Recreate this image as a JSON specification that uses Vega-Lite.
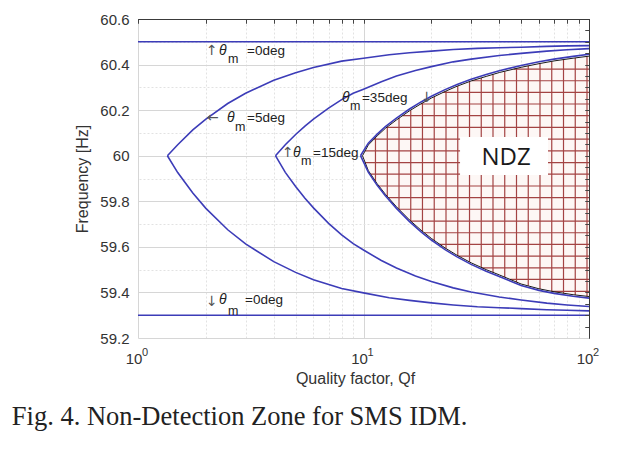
{
  "$schema": "https://vega.github.io/schema/vega-lite/v6.json",
  "width": 451,
  "height": 319,
  "autosize": "none",
  "padding": {"left": 138, "top": 19, "right": 30, "bottom": 114},
  "background": "white",
  "config": {
    "view": {"stroke": null},
    "axis": {"labelFont": "Liberation Sans", "titleFont": "Liberation Sans", "domain": false, "labelFlush": false, "labelOverlap": false}
  },
  "title": {"text": "Fig. 4. Non-Detection Zone for SMS IDM.", "orient": "bottom", "anchor": "start", "frame": "bounds", "font": "Liberation Serif", "fontSize": 26.5, "fontWeight": "normal", "color": "#222", "offset": 18, "dx": -63},
  "resolve": {"axis": {"x": "independent", "y": "independent"}},
  "datasets": {
    "curves": [
      {"id": "0u", "Q": 1, "f": 60.5}, {"id": "0u", "Q": 100, "f": 60.5},
      {"id": "0l", "Q": 1, "f": 59.3}, {"id": "0l", "Q": 100, "f": 59.3},
      {"id": "5u", "Q": 1.35, "f": 60.0}, {"id": "5u", "Q": 1.5, "f": 60.048}, {"id": "5u", "Q": 1.75, "f": 60.113}, {"id": "5u", "Q": 2, "f": 60.161}, {"id": "5u", "Q": 2.5, "f": 60.229}, {"id": "5u", "Q": 3, "f": 60.274}, {"id": "5u", "Q": 4, "f": 60.331}, {"id": "5u", "Q": 5, "f": 60.364}, {"id": "5u", "Q": 6, "f": 60.387}, {"id": "5u", "Q": 8, "f": 60.415}, {"id": "5u", "Q": 10, "f": 60.428}, {"id": "5u", "Q": 13, "f": 60.443}, {"id": "5u", "Q": 16, "f": 60.452}, {"id": "5u", "Q": 20, "f": 60.459}, {"id": "5u", "Q": 25, "f": 60.466}, {"id": "5u", "Q": 32, "f": 60.471}, {"id": "5u", "Q": 40, "f": 60.474}, {"id": "5u", "Q": 50, "f": 60.476}, {"id": "5u", "Q": 65, "f": 60.48}, {"id": "5u", "Q": 80, "f": 60.482}, {"id": "5u", "Q": 100, "f": 60.483},
      {"id": "5l", "Q": 1.35, "f": 60.0}, {"id": "5l", "Q": 1.5, "f": 59.926}, {"id": "5l", "Q": 1.75, "f": 59.836}, {"id": "5l", "Q": 2, "f": 59.769}, {"id": "5l", "Q": 2.5, "f": 59.675}, {"id": "5l", "Q": 3, "f": 59.613}, {"id": "5l", "Q": 4, "f": 59.535}, {"id": "5l", "Q": 5, "f": 59.488}, {"id": "5l", "Q": 6, "f": 59.456}, {"id": "5l", "Q": 8, "f": 59.417}, {"id": "5l", "Q": 10, "f": 59.398}, {"id": "5l", "Q": 13, "f": 59.377}, {"id": "5l", "Q": 16, "f": 59.365}, {"id": "5l", "Q": 20, "f": 59.354}, {"id": "5l", "Q": 25, "f": 59.345}, {"id": "5l", "Q": 32, "f": 59.337}, {"id": "5l", "Q": 40, "f": 59.333}, {"id": "5l", "Q": 50, "f": 59.329}, {"id": "5l", "Q": 65, "f": 59.324}, {"id": "5l", "Q": 80, "f": 59.322}, {"id": "5l", "Q": 100, "f": 59.319},
      {"id": "15u", "Q": 4.07, "f": 60.0}, {"id": "15u", "Q": 4.5, "f": 60.048}, {"id": "15u", "Q": 5, "f": 60.093}, {"id": "15u", "Q": 5.5, "f": 60.13}, {"id": "15u", "Q": 6, "f": 60.161}, {"id": "15u", "Q": 7, "f": 60.209}, {"id": "15u", "Q": 8, "f": 60.246}, {"id": "15u", "Q": 9, "f": 60.274}, {"id": "15u", "Q": 10, "f": 60.292}, {"id": "15u", "Q": 12, "f": 60.325}, {"id": "15u", "Q": 14, "f": 60.35}, {"id": "15u", "Q": 17, "f": 60.374}, {"id": "15u", "Q": 20, "f": 60.391}, {"id": "15u", "Q": 25, "f": 60.412}, {"id": "15u", "Q": 30, "f": 60.424}, {"id": "15u", "Q": 40, "f": 60.44}, {"id": "15u", "Q": 50, "f": 60.449}, {"id": "15u", "Q": 65, "f": 60.459}, {"id": "15u", "Q": 80, "f": 60.465}, {"id": "15u", "Q": 100, "f": 60.47},
      {"id": "15l", "Q": 4.07, "f": 60.0}, {"id": "15l", "Q": 4.5, "f": 59.927}, {"id": "15l", "Q": 5, "f": 59.865}, {"id": "15l", "Q": 5.5, "f": 59.813}, {"id": "15l", "Q": 6, "f": 59.771}, {"id": "15l", "Q": 7, "f": 59.703}, {"id": "15l", "Q": 8, "f": 59.653}, {"id": "15l", "Q": 9, "f": 59.614}, {"id": "15l", "Q": 10, "f": 59.586}, {"id": "15l", "Q": 12, "f": 59.54}, {"id": "15l", "Q": 14, "f": 59.507}, {"id": "15l", "Q": 17, "f": 59.472}, {"id": "15l", "Q": 20, "f": 59.448}, {"id": "15l", "Q": 25, "f": 59.42}, {"id": "15l", "Q": 30, "f": 59.402}, {"id": "15l", "Q": 40, "f": 59.38}, {"id": "15l", "Q": 50, "f": 59.367}, {"id": "15l", "Q": 65, "f": 59.353}, {"id": "15l", "Q": 80, "f": 59.345}, {"id": "15l", "Q": 100, "f": 59.338},
      {"id": "35u", "Q": 9.7, "f": 60.0}, {"id": "35u", "Q": 10.5, "f": 60.055}, {"id": "35u", "Q": 11.5, "f": 60.095}, {"id": "35u", "Q": 12.5, "f": 60.128}, {"id": "35u", "Q": 14, "f": 60.165}, {"id": "35u", "Q": 16, "f": 60.205}, {"id": "35u", "Q": 18, "f": 60.236}, {"id": "35u", "Q": 20, "f": 60.261}, {"id": "35u", "Q": 23, "f": 60.29}, {"id": "35u", "Q": 26, "f": 60.313}, {"id": "35u", "Q": 30, "f": 60.336}, {"id": "35u", "Q": 35, "f": 60.356}, {"id": "35u", "Q": 40, "f": 60.373}, {"id": "35u", "Q": 50, "f": 60.396}, {"id": "35u", "Q": 60, "f": 60.412}, {"id": "35u", "Q": 70, "f": 60.424}, {"id": "35u", "Q": 85, "f": 60.436}, {"id": "35u", "Q": 100, "f": 60.445},
      {"id": "35l", "Q": 9.7, "f": 60.0}, {"id": "35l", "Q": 10.5, "f": 59.928}, {"id": "35l", "Q": 11.5, "f": 59.87}, {"id": "35l", "Q": 12.5, "f": 59.824}, {"id": "35l", "Q": 14, "f": 59.769}, {"id": "35l", "Q": 16, "f": 59.711}, {"id": "35l", "Q": 18, "f": 59.666}, {"id": "35l", "Q": 20, "f": 59.63}, {"id": "35l", "Q": 23, "f": 59.588}, {"id": "35l", "Q": 26, "f": 59.556}, {"id": "35l", "Q": 30, "f": 59.523}, {"id": "35l", "Q": 35, "f": 59.493}, {"id": "35l", "Q": 40, "f": 59.47}, {"id": "35l", "Q": 50, "f": 59.43}, {"id": "35l", "Q": 60, "f": 59.409}, {"id": "35l", "Q": 70, "f": 59.396}, {"id": "35l", "Q": 85, "f": 59.383}, {"id": "35l", "Q": 100, "f": 59.375}
    ],
    "ndz": [
      {"Q": 9.9, "lo": 60.0, "hi": 60.0}, {"Q": 10.5, "lo": 59.935, "hi": 60.047}, {"Q": 11.5, "lo": 59.877, "hi": 60.087}, {"Q": 12.5, "lo": 59.831, "hi": 60.12}, {"Q": 14, "lo": 59.776, "hi": 60.157}, {"Q": 16, "lo": 59.718, "hi": 60.197}, {"Q": 18, "lo": 59.673, "hi": 60.228}, {"Q": 20, "lo": 59.637, "hi": 60.253}, {"Q": 23, "lo": 59.595, "hi": 60.282}, {"Q": 26, "lo": 59.563, "hi": 60.305}, {"Q": 30, "lo": 59.53, "hi": 60.328}, {"Q": 35, "lo": 59.5, "hi": 60.348}, {"Q": 40, "lo": 59.477, "hi": 60.365}, {"Q": 50, "lo": 59.437, "hi": 60.388}, {"Q": 60, "lo": 59.416, "hi": 60.404}, {"Q": 70, "lo": 59.403, "hi": 60.416}, {"Q": 85, "lo": 59.39, "hi": 60.428}, {"Q": 100, "lo": 59.382, "hi": 60.437}
    ],
    "hatchV": [
      {"Q": 11.3, "lo": 59.887, "hi": 60.08}, {"Q": 12.75, "lo": 59.82, "hi": 60.126}, {"Q": 14.37, "lo": 59.765, "hi": 60.165}, {"Q": 16.2, "lo": 59.713, "hi": 60.2}, {"Q": 18.26, "lo": 59.668, "hi": 60.231}, {"Q": 20.59, "lo": 59.628, "hi": 60.259}, {"Q": 23.22, "lo": 59.593, "hi": 60.284}, {"Q": 26.18, "lo": 59.561, "hi": 60.306}, {"Q": 29.52, "lo": 59.534, "hi": 60.325}, {"Q": 33.28, "lo": 59.51, "hi": 60.341}, {"Q": 37.52, "lo": 59.488, "hi": 60.357}, {"Q": 42.3, "lo": 59.467, "hi": 60.371}, {"Q": 47.7, "lo": 59.445, "hi": 60.383}, {"Q": 53.78, "lo": 59.429, "hi": 60.394}, {"Q": 60.63, "lo": 59.415, "hi": 60.405}, {"Q": 68.36, "lo": 59.405, "hi": 60.414}, {"Q": 77.08, "lo": 59.396, "hi": 60.422}, {"Q": 86.9, "lo": 59.389, "hi": 60.429}, {"Q": 97.97, "lo": 59.383, "hi": 60.436}
    ],
    "hatchH": [
      {"f": 60.38, "Q": 46.3}, {"f": 60.329, "Q": 30.2}, {"f": 60.278, "Q": 22.56}, {"f": 60.227, "Q": 17.93}, {"f": 60.176, "Q": 14.92}, {"f": 60.124, "Q": 12.65}, {"f": 60.073, "Q": 11.13}, {"f": 60.0215, "Q": 10.16}, {"f": 59.97, "Q": 10.17}, {"f": 59.919, "Q": 10.76}, {"f": 59.867, "Q": 11.69}, {"f": 59.816, "Q": 12.87}, {"f": 59.765, "Q": 14.32}, {"f": 59.713, "Q": 16.17}, {"f": 59.662, "Q": 18.53}, {"f": 59.611, "Q": 21.73}, {"f": 59.559, "Q": 26.34}, {"f": 59.508, "Q": 33.42}, {"f": 59.457, "Q": 44.7}, {"f": 59.405, "Q": 68.3}
    ],
    "box": [{"q1": 26.8, "q2": 65.8, "f1": 59.915, "f2": 60.082, "t": "NDZ", "Q": 42.9, "f": 59.988}],
    "ann": [
      {"k": "arrow", "Q": 2.003, "f": 60.459, "t": "↑"}, {"k": "theta", "Q": 2.287, "f": 60.459, "t": "θ"}, {"k": "sub", "Q": 2.506, "f": 60.4265, "t": "m"}, {"k": "txt", "Q": 3.044, "f": 60.459, "t": "=0deg"},
      {"k": "arrow", "Q": 2.023, "f": 60.165, "t": "←"}, {"k": "theta", "Q": 2.481, "f": 60.165, "t": "θ"}, {"k": "sub", "Q": 2.693, "f": 60.126, "t": "m"}, {"k": "txt", "Q": 3.044, "f": 60.165, "t": "=5deg"},
      {"k": "arrow", "Q": 4.351, "f": 60.012, "t": "↑"}, {"k": "theta", "Q": 4.869, "f": 60.012, "t": "θ"}, {"k": "sub", "Q": 5.283, "f": 59.977, "t": "m"}, {"k": "txt", "Q": 5.971, "f": 60.012, "t": "=15deg"},
      {"k": "theta", "Q": 8.03, "f": 60.255, "t": "θ"}, {"k": "sub", "Q": 8.711, "f": 60.218, "t": "m"}, {"k": "txt", "Q": 9.847, "f": 60.255, "t": "=35deg"}, {"k": "arrow", "Q": 17.99, "f": 60.255, "t": "↓"},
      {"k": "arrow", "Q": 2.003, "f": 59.358, "t": "↓"}, {"k": "theta", "Q": 2.287, "f": 59.365, "t": "θ"}, {"k": "sub", "Q": 2.506, "f": 59.319, "t": "m"}, {"k": "txt", "Q": 2.982, "f": 59.365, "t": "=0deg"}
    ],
    "exps": [{"Q": 1, "e": "0"}, {"Q": 10, "e": "1"}, {"Q": 100, "e": "2"}]
  },
  "layer": [
    {
      "data": {"name": "ndz"},
      "mark": {"type": "area", "color": "#fdf7f5", "opacity": 1},
      "encoding": {
        "x": {"field": "Q", "type": "quantitative", "scale": {"type": "log", "domain": [1, 100], "nice": false},
          "axis": {"values": [1, 10, 100], "labelExpr": "'10'", "labelAlign": "center", "labelOffset": -4.5, "labelPadding": 13, "labelBaseline": "top", "labelFontSize": 15, "labelColor": "#333", "ticks": false, "grid": true, "gridColor": "#d6d6d6", "title": "Quality factor, Qf", "titleFontSize": 16, "titleFontWeight": "normal", "titleColor": "#333", "titlePadding": 4, "titleX": 217}},
        "y": {"field": "lo", "type": "quantitative", "scale": {"domain": [59.2, 60.6], "nice": false, "zero": false},
          "axis": {"values": [59.2, 59.4, 59.6, 59.8, 60, 60.2, 60.4, 60.6], "format": ".1~f", "labelFontSize": 15, "labelColor": "#333", "labelPadding": 9, "ticks": false, "grid": true, "gridColor": "#d6d6d6", "title": "Frequency [Hz]", "titleFontSize": 16, "titleFontWeight": "normal", "titleColor": "#333", "titlePadding": 9}},
        "y2": {"field": "hi"}
      }
    },
    {
      "data": {"name": "hatchV"},
      "mark": {"type": "rule", "color": "#a34343", "strokeWidth": 1.2},
      "encoding": {
        "x": {"field": "Q", "type": "quantitative", "scale": {"type": "log", "domain": [1, 100], "nice": false},
          "axis": {"values": [1, 2, 3, 4, 5, 6, 7, 8, 9, 10, 20, 30, 40, 50, 60, 70, 80, 90, 100], "labels": false, "grid": false, "ticks": true, "tickSize": -4, "tickColor": "#444", "domain": true, "domainColor": "#3a3a3a", "title": null, "zindex": 1}},
        "y": {"field": "lo", "type": "quantitative", "scale": {"domain": [59.2, 60.6], "nice": false, "zero": false},
          "axis": {"values": [59.25, 59.3, 59.35, 59.4, 59.45, 59.5, 59.55, 59.6, 59.65, 59.7, 59.75, 59.8, 59.85, 59.9, 59.95, 60, 60.05, 60.1, 60.15, 60.2, 60.25, 60.3, 60.35, 60.4, 60.45, 60.5, 60.55], "labels": false, "grid": false, "ticks": true, "tickSize": -4, "tickColor": "#444", "domain": true, "domainColor": "#3a3a3a", "title": null, "zindex": 1}},
        "y2": {"field": "hi"}
      }
    },
    {
      "data": {"name": "hatchH"},
      "mark": {"type": "rule", "color": "#a34343", "strokeWidth": 1.2},
      "encoding": {
        "x": {"field": "Q", "type": "quantitative", "scale": {"type": "log", "domain": [1, 100], "nice": false},
          "axis": {"orient": "top", "values": [1, 2, 3, 4, 5, 6, 7, 8, 9, 10, 20, 30, 40, 50, 60, 70, 80, 90, 100], "labels": false, "grid": false, "ticks": true, "tickSize": -4, "tickColor": "#444", "domain": true, "domainColor": "#3a3a3a", "title": null, "zindex": 1}},
        "x2": {"datum": 100},
        "y": {"field": "f", "type": "quantitative", "scale": {"domain": [59.2, 60.6], "nice": false, "zero": false},
          "axis": {"orient": "right", "values": [59.25, 59.3, 59.35, 59.4, 59.45, 59.5, 59.55, 59.6, 59.65, 59.7, 59.75, 59.8, 59.85, 59.9, 59.95, 60, 60.05, 60.1, 60.15, 60.2, 60.25, 60.3, 60.35, 60.4, 60.45, 60.5, 60.55], "labels": false, "grid": false, "ticks": true, "tickSize": -4, "tickColor": "#444", "domain": true, "domainColor": "#3a3a3a", "title": null, "zindex": 1}}
      }
    },
    {
      "data": {"name": "box"},
      "mark": {"type": "rect", "color": "white"},
      "encoding": {
        "x": {"field": "q1", "type": "quantitative", "scale": {"type": "log", "domain": [1, 100], "nice": false},
          "axis": {"values": [2, 3, 4, 5, 6, 7, 8, 9, 20, 30, 40, 50, 60, 70, 80, 90], "labels": false, "ticks": false, "grid": true, "gridColor": "#e2e2e2", "gridDash": [2, 2], "title": null}},
        "x2": {"field": "q2"},
        "y": {"field": "f1", "type": "quantitative", "scale": {"domain": [59.2, 60.6], "nice": false, "zero": false},
          "axis": {"values": [59.3, 59.5, 59.7, 59.9, 60.1, 60.3, 60.5], "labels": false, "ticks": false, "grid": true, "gridColor": "#e2e2e2", "gridDash": [2, 2], "title": null}},
        "y2": {"field": "f2"}
      }
    },
    {
      "data": {"name": "box"},
      "mark": {"type": "text", "font": "Open Sans", "fontSize": 24, "color": "#1a1a1a", "align": "center", "baseline": "middle"},
      "encoding": {
        "x": {"field": "Q", "type": "quantitative", "scale": {"type": "log", "domain": [1, 100], "nice": false}, "axis": null},
        "y": {"field": "f", "type": "quantitative", "scale": {"domain": [59.2, 60.6], "nice": false, "zero": false}, "axis": null},
        "text": {"field": "t"}
      }
    },
    {
      "data": {"name": "ndz"},
      "mark": {"type": "line", "color": "#1a1a1a", "strokeWidth": 1},
      "encoding": {
        "x": {"field": "Q", "type": "quantitative", "scale": {"type": "log", "domain": [1, 100], "nice": false}, "axis": null},
        "y": {"field": "hi", "type": "quantitative", "scale": {"domain": [59.2, 60.6], "nice": false, "zero": false}, "axis": null}
      }
    },
    {
      "data": {"name": "ndz"},
      "mark": {"type": "line", "color": "#1a1a1a", "strokeWidth": 1},
      "encoding": {
        "x": {"field": "Q", "type": "quantitative", "scale": {"type": "log", "domain": [1, 100], "nice": false}, "axis": null},
        "y": {"field": "lo", "type": "quantitative", "scale": {"domain": [59.2, 60.6], "nice": false, "zero": false}, "axis": null}
      }
    },
    {
      "data": {"name": "curves"},
      "mark": {"type": "line", "color": "#3c3cb8", "strokeWidth": 1.6},
      "encoding": {
        "x": {"field": "Q", "type": "quantitative", "scale": {"type": "log", "domain": [1, 100], "nice": false}, "axis": null},
        "y": {"field": "f", "type": "quantitative", "scale": {"domain": [59.2, 60.6], "nice": false, "zero": false}, "axis": null},
        "detail": {"field": "id", "type": "nominal"}
      }
    },
    {
      "data": {"name": "ann"},
      "transform": [{"filter": "datum.k == 'txt'"}],
      "mark": {"type": "text", "font": "Liberation Sans", "fontSize": 13.5, "color": "#222", "align": "left", "baseline": "middle"},
      "encoding": {
        "x": {"field": "Q", "type": "quantitative", "scale": {"type": "log", "domain": [1, 100], "nice": false}, "axis": null},
        "y": {"field": "f", "type": "quantitative", "scale": {"domain": [59.2, 60.6], "nice": false, "zero": false}, "axis": null},
        "text": {"field": "t"}
      }
    },
    {
      "data": {"name": "ann"},
      "transform": [{"filter": "datum.k == 'theta'"}],
      "mark": {"type": "text", "font": "Liberation Sans", "fontStyle": "italic", "fontSize": 14, "color": "#222", "align": "left", "baseline": "middle"},
      "encoding": {
        "x": {"field": "Q", "type": "quantitative", "scale": {"type": "log", "domain": [1, 100], "nice": false}, "axis": null},
        "y": {"field": "f", "type": "quantitative", "scale": {"domain": [59.2, 60.6], "nice": false, "zero": false}, "axis": null},
        "text": {"field": "t"}
      }
    },
    {
      "data": {"name": "ann"},
      "transform": [{"filter": "datum.k == 'sub'"}],
      "mark": {"type": "text", "font": "Liberation Sans", "fontSize": 12.5, "color": "#222", "align": "left", "baseline": "middle"},
      "encoding": {
        "x": {"field": "Q", "type": "quantitative", "scale": {"type": "log", "domain": [1, 100], "nice": false}, "axis": null},
        "y": {"field": "f", "type": "quantitative", "scale": {"domain": [59.2, 60.6], "nice": false, "zero": false}, "axis": null},
        "text": {"field": "t"}
      }
    },
    {
      "data": {"name": "ann"},
      "transform": [{"filter": "datum.k == 'arrow'"}],
      "mark": {"type": "text", "font": "DejaVu Sans", "fontSize": 14, "color": "#555", "align": "left", "baseline": "middle"},
      "encoding": {
        "x": {"field": "Q", "type": "quantitative", "scale": {"type": "log", "domain": [1, 100], "nice": false}, "axis": null},
        "y": {"field": "f", "type": "quantitative", "scale": {"domain": [59.2, 60.6], "nice": false, "zero": false}, "axis": null},
        "text": {"field": "t"}
      }
    },
    {
      "data": {"name": "exps"},
      "mark": {"type": "text", "font": "Liberation Sans", "fontSize": 11, "color": "#333", "align": "left", "baseline": "middle", "dx": 4, "dy": 15},
      "encoding": {
        "x": {"field": "Q", "type": "quantitative", "scale": {"type": "log", "domain": [1, 100], "nice": false}, "axis": null},
        "y": {"datum": 59.2, "type": "quantitative", "scale": {"domain": [59.2, 60.6], "nice": false, "zero": false}, "axis": null},
        "text": {"field": "e"}
      }
    }
  ]
}
